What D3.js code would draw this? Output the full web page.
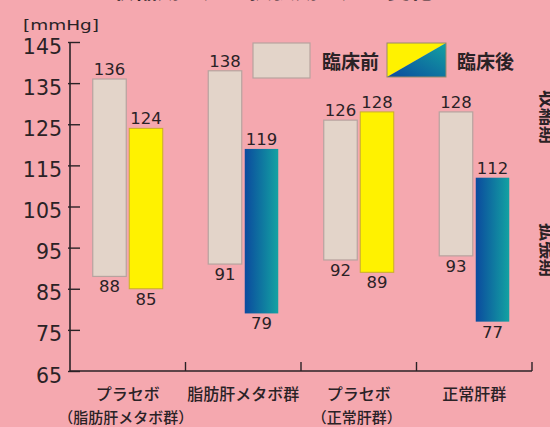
<!DOCTYPE html>
<html>
<head>
<meta charset="utf-8">
<script src="https://cdn.jsdelivr.net/npm/d3@7/dist/d3.min.js"></script>
<style>
  html, body { margin: 0; padding: 0; background: #f5a8af; }
  svg { display: block; }
</style>
</head>
<body>
<script>
// Blood pressure (systolic top / diastolic bottom) before and after the trial
const categories = ["g1", "g2", "g3", "g4"];
const categoryLabels = ["プラセボ", "脂肪肝メタボ群", "プラセボ", "正常肝群"];
const categorySubLabels = ["（脂肪肝メタボ群）", "", "（正常肝群）", ""];
const beforeSystolic = [136, 138, 126, 128];
const beforeDiastolic = [88, 91, 92, 93];
const afterSystolic = [124, 119, 128, 112];
const afterDiastolic = [85, 79, 89, 77];
// treatment groups get the blue gradient, placebo groups yellow
const afterIsTreated = [false, true, false, true];
const yTicks = [65, 75, 85, 95, 105, 115, 125, 135, 145];
const legendLabels = ["臨床前", "臨床後"];
const sideLabels = ["収縮期", "拡張期"];

const W = 550, H = 427;
const svg = d3.select("body").append("svg").attr("width", W).attr("height", H);

const defs = svg.append("defs");
const grad = defs.append("linearGradient").attr("id", "blueGrad")
  .attr("x1", "0").attr("y1", "0").attr("x2", "1").attr("y2", "0");
grad.append("stop").attr("offset", "0%").attr("stop-color", "#0b4a9e");
grad.append("stop").attr("offset", "100%").attr("stop-color", "#13a2a2");
const gradL = defs.append("linearGradient").attr("id", "legendGrad")
  .attr("x1", "0").attr("y1", "1").attr("x2", "1").attr("y2", "0");
gradL.append("stop").attr("offset", "0%").attr("stop-color", "#0b4a9e");
gradL.append("stop").attr("offset", "100%").attr("stop-color", "#13a2a2");

const numFont = "'DejaVu Sans', sans-serif";
const jpFont = "'Noto Sans CJK JP', sans-serif";
const ink = "#2a2226";

const y = d3.scaleLinear().domain([65, 145]).range([371, 42]);
const x = d3.scaleBand().domain(categories).range([70, 532]).paddingInner(0).paddingOuter(0);
const barW = 33.5, gap = 3;

// title (runs off the top edge)
svg.append("text").attr("x", 272).attr("y", -2)
  .attr("text-anchor", "middle").attr("font-family", jpFont)
  .attr("font-size", 23).attr("font-weight", 700).attr("fill", ink)
  .text("収縮期血圧・拡張期血圧の変化");

// unit
svg.append("text").attr("x", 23).attr("y", 30)
  .attr("font-family", numFont).attr("font-size", 14).attr("fill", ink)
  .attr("textLength", 76).attr("lengthAdjust", "spacingAndGlyphs")
  .text("[mmHg]");

// y axis
const yAxis = d3.axisRight(y).tickValues(yTicks).tickSize(10).tickFormat("");
const gy = svg.append("g").attr("transform", "translate(70,0)").call(yAxis);
gy.select(".domain").attr("stroke", ink).attr("stroke-width", 1.6).attr("d", `M0,${y(145)}V${y(65)}`);
gy.selectAll(".tick line").attr("stroke", ink).attr("stroke-width", 1.4)
  .attr("x1", -2);
svg.append("g").selectAll("text").data(yTicks).join("text")
  .attr("x", 62).attr("y", d => y(d) + 11.5)
  .attr("text-anchor", "end").attr("font-family", numFont)
  .attr("font-size", 20.5).attr("fill", ink).text(d => d);

// x axis
const gx = svg.append("g").attr("transform", `translate(0,${y(65)})`);
gx.append("line").attr("x1", 70).attr("x2", 532).attr("stroke", ink).attr("stroke-width", 1.6);
const bounds = categories.slice(1).map(c => x(c)).concat([532]);
gx.selectAll("line.t").data(bounds).join("line").attr("class", "t")
  .attr("x1", d => d).attr("x2", d => d).attr("y1", 0).attr("y2", -9)
  .attr("stroke", ink).attr("stroke-width", 1.4);

svg.append("g").selectAll("text").data(categories).join("text")
  .attr("x", (d) => x(d) + x.bandwidth() / 2).attr("y", 400)
  .attr("text-anchor", "middle").attr("font-family", jpFont)
  .attr("font-size", 16).attr("font-weight", 500).attr("fill", ink)
  .text((d, i) => categoryLabels[i]);
svg.append("g").selectAll("text").data(categories).join("text")
  .attr("x", (d) => x(d) + x.bandwidth() / 2 - 2).attr("y", 423)
  .attr("text-anchor", "middle").attr("font-family", jpFont)
  .attr("font-size", 15).attr("font-weight", 500).attr("fill", ink)
  .text((d, i) => categorySubLabels[i]);

// bars
const rows = categories.map((c, i) => ({
  c, i,
  bTop: beforeSystolic[i], bBot: beforeDiastolic[i],
  aTop: afterSystolic[i], aBot: afterDiastolic[i],
  treated: afterIsTreated[i]
}));
const cx = d => x(d.c) + x.bandwidth() / 2;

const bars = svg.append("g");
bars.selectAll("rect.before").data(rows).join("rect").attr("class", "before")
  .attr("x", d => cx(d) - gap / 2 - barW).attr("width", barW)
  .attr("y", d => y(d.bTop)).attr("height", d => y(d.bBot) - y(d.bTop))
  .attr("fill", "#e3d4c9").attr("stroke", "#b7a39f").attr("stroke-width", 1.2);
bars.selectAll("rect.after").data(rows).join("rect").attr("class", "after")
  .attr("x", d => cx(d) + gap / 2).attr("width", barW)
  .attr("y", d => y(d.aTop)).attr("height", d => y(d.aBot) - y(d.aTop))
  .attr("fill", d => d.treated ? "url(#blueGrad)" : "#fff200")
  .attr("stroke", d => d.treated ? "none" : "#c9ad2c").attr("stroke-width", 1);

// value labels
const lab = svg.append("g").attr("font-family", numFont).attr("font-size", 16.5)
  .attr("fill", ink).attr("text-anchor", "middle");
const labels = [];
rows.forEach(d => {
  const bx = cx(d) - gap / 2 - barW / 2, ax = cx(d) + gap / 2 + barW / 2;
  labels.push({ x: bx, v: d.bTop, top: true }, { x: bx, v: d.bBot, top: false });
  labels.push({ x: ax, v: d.aTop, top: true }, { x: ax, v: d.aBot, top: false });
});
lab.selectAll("text").data(labels).join("text")
  .attr("x", d => d.x).attr("y", d => d.top ? y(d.v) - 4 : y(d.v) + 16)
  .text(d => d.v);

// legend
const lg = svg.append("g");
lg.append("rect").attr("x", 253).attr("y", 43).attr("width", 57).attr("height", 35)
  .attr("fill", "#e3d4c9").attr("stroke", "#b7a39f").attr("stroke-width", 1.2);
lg.append("text").attr("x", 322).attr("y", 68.5).attr("font-family", jpFont)
  .attr("font-size", 19).attr("font-weight", 600).attr("fill", ink).text(legendLabels[0]);
const lx = 387, ly = 43, lw = 59, lh = 34;
lg.append("path").attr("d", `M${lx},${ly}H${lx + lw}L${lx},${ly + lh}Z`).attr("fill", "#fff200");
lg.append("path").attr("d", `M${lx + lw},${ly}V${ly + lh}H${lx}Z`).attr("fill", "url(#legendGrad)");
lg.append("rect").attr("x", lx).attr("y", ly).attr("width", lw).attr("height", lh)
  .attr("fill", "none").attr("stroke", "#9a8a6a").attr("stroke-width", 1);
lg.append("text").attr("x", 457).attr("y", 68.5).attr("font-family", jpFont)
  .attr("font-size", 19).attr("font-weight", 600).attr("fill", ink).text(legendLabels[1]);

// side labels (run off the right edge)
[[sideLabels[0], 117], [sideLabels[1], 250]].forEach(([t, yy]) => {
  svg.append("text").attr("transform", `translate(541,${yy}) rotate(90)`)
    .attr("text-anchor", "middle").attr("font-family", jpFont)
    .attr("font-size", 18).attr("font-weight", 600).attr("fill", ink).text(t);
});
</script>
</body>
</html>
